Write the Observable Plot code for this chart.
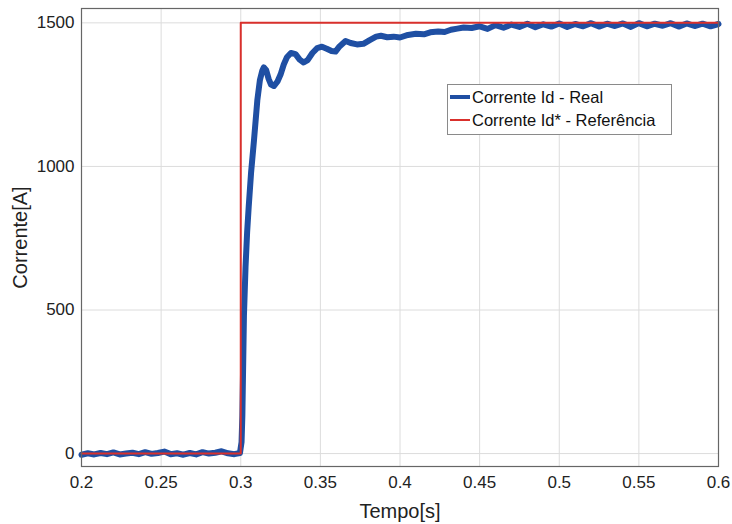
<!DOCTYPE html>
<html>
<head>
<meta charset="utf-8">
<script src="https://cdn.jsdelivr.net/npm/d3@7"></script>
<script src="https://cdn.jsdelivr.net/npm/@observablehq/plot@0.6"></script>
<style>
  body { margin: 0; background: #fff; font-family: "Liberation Sans", Arial, sans-serif; }
  #wrap { position: relative; width: 732px; height: 524px; }
  #legend { position: absolute; left: 447px; top: 84px; width: 223px; height: 49px; border: 1px solid #8a8a8a; background: #fff; font-size: 16.5px; color: #111; }
  #legend .row { position: absolute; left: 2px; height: 22px; display: flex; align-items: center; }
  #legend .sw { width: 20px; margin-right: 2px; }
</style>
</head>
<body>
<div id="wrap">
  <div id="chart"></div>
  <div id="legend">
    <div class="row" style="top:1px"><div class="sw" style="height:4px;background:#1f4fa3"></div><span>Corrente Id - Real</span></div>
    <div class="row" style="top:24px"><div class="sw" style="height:2px;background:#d9302c"></div><span>Corrente Id* - Referência</span></div>
  </div>
</div>
<script>
const tReal = [0.200,0.204,0.208,0.212,0.216,0.220,0.224,0.228,0.232,0.236,0.240,0.244,0.248,0.252,0.256,0.260,0.264,0.268,0.272,0.276,0.280,0.284,0.288,0.292,0.296,0.2995,
  0.3005,0.301,0.302,0.303,0.304,0.305,0.3065,0.3083,0.3104,0.312,0.3135,0.3145,0.316,0.3175,0.319,0.3208,0.323,0.325,0.327,0.329,0.3315,0.3344,0.337,0.3395,0.342,0.345,0.348,0.351,0.354,0.357,0.3595,0.362,0.3658,0.369,0.373,0.377,0.381,0.385,0.388,0.392,0.396,0.400,0.405,0.410,0.415,0.419,0.424,0.428,0.432,0.436,0.440,0.445,0.450,
  0.455,0.460,0.465,0.470,0.475,0.480,0.485,0.490,0.495,0.500,0.505,0.510,0.515,0.520,0.525,0.530,0.535,0.540,0.545,0.550,0.555,0.560,0.565,0.570,0.575,0.580,0.585,0.590,0.595,0.600];
const iReal = [-4,1,-3,2,-2,4,-3,0,3,-2,5,-1,2,7,-2,1,-4,2,-3,5,0,3,8,1,-2,2,
  40,130,480,650,770,860,980,1090,1230,1300,1333,1345,1335,1305,1285,1280,1295,1320,1355,1380,1395,1391,1372,1362,1370,1395,1412,1417,1410,1402,1400,1418,1437,1430,1425,1427,1440,1452,1455,1450,1452,1449,1458,1462,1460,1467,1470,1468,1476,1480,1484,1482,1488,
  1479,1492,1483,1494,1486,1497,1485,1495,1487,1498,1486,1496,1488,1499,1487,1497,1489,1498,1486,1499,1488,1497,1490,1499,1487,1498,1489,1497,1488,1496];
const tRef = [0.2, 0.3, 0.3, 0.6];
const iRef = [0, 0, 1500, 1500];
const xTicks = [0.2,0.25,0.3,0.35,0.4,0.45,0.5,0.55,0.6];
const yTicks = [0,500,1000,1500];
const xLabel = "Tempo[s]";
const yLabel = "Corrente[A]";

const real = tReal.map((t, k) => ({t, i: iReal[k]}));
const ref = tRef.map((t, k) => ({t, i: iRef[k]}));

const chart = Plot.plot({
  width: 732, height: 524,
  marginLeft: 81, marginRight: 14, marginTop: 8, marginBottom: 58,
  style: {fontFamily: "Liberation Sans, Arial, sans-serif", fontSize: "17px", color: "#222"},
  x: {domain: [0.2, 0.6]},
  y: {domain: [-45, 1550]},
  marks: [
    Plot.gridX(xTicks, {stroke: "#dcdcdc", strokeOpacity: 1}),
    Plot.gridY(yTicks, {stroke: "#dcdcdc", strokeOpacity: 1}),
    Plot.axisX({ticks: xTicks, tickFormat: d => String(+d.toFixed(2)), tickSize: 0, tickPadding: 9, fontSize: 17, label: null}),
    Plot.axisY({ticks: yTicks, tickFormat: d => String(d), tickSize: 0, tickPadding: 7, fontSize: 17, label: null}),
    Plot.text([xLabel], {frameAnchor: "bottom", dy: 45, fontSize: 20, lineAnchor: "middle", textAnchor: "middle", fill: "#222"}),
    Plot.text([yLabel], {frameAnchor: "left", dx: -61, rotate: -90, fontSize: 20, lineAnchor: "middle", textAnchor: "middle", fill: "#222"}),
    Plot.line(real, {x: "t", y: "i", stroke: "#1f4fa3", strokeWidth: 6, strokeLinejoin: "round"}),
    Plot.line(ref, {x: "t", y: "i", stroke: "#d9302c", strokeWidth: 2}),
    Plot.frame({stroke: "#666", strokeWidth: 1.2})
  ]
});
document.getElementById("chart").appendChild(chart);
</script>
</body>
</html>
